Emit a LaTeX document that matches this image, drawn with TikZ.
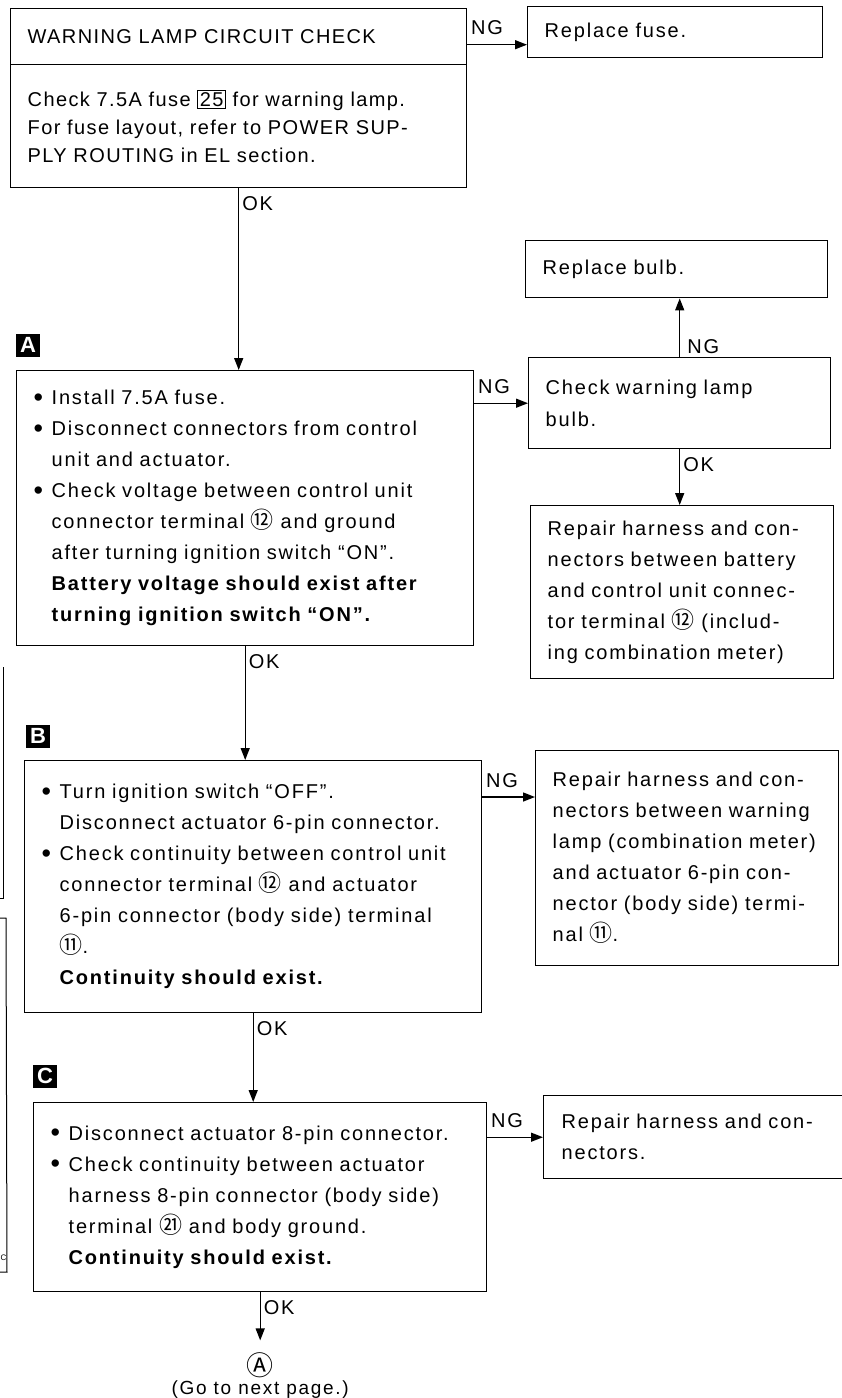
\documentclass[tikz,border=0pt]{standalone}
\usepackage{fontspec}
\setmainfont[LetterSpace=9]{Liberation Sans}
\newfontfamily\topfont[LetterSpace=7]{Liberation Sans}
\newfontfamily\cjk{Noto Sans CJK SC}
\usetikzlibrary{arrows.meta, positioning}

\newcommand{\cnum}[1]{{\cjk\fontsize{23}{23}\selectfont #1}}
\newcommand{\bl}{\makebox[18pt][l]{\raisebox{-1.5pt}{\fontsize{27}{27}\selectfont\textbullet}}}
\newcommand{\ind}{\hspace*{18pt}}
\setlength{\fboxsep}{1.5pt}
\setlength{\fboxrule}{1pt}

\begin{document}
\begin{tikzpicture}[x=1pt, y=-1pt,
  box/.style={draw, line width=1.4pt, anchor=north west, align=left,
              inner xsep=17pt, inner ysep=0pt,
              font=\fontsize{20}{31}\selectfont},
  marker/.style={fill=black, text=white, inner sep=0pt,
              minimum width=24pt, minimum height=23pt,
              font=\fontsize{22}{22}\selectfont\bfseries},
  arrow/.style={-{Triangle[length=12pt, width=9pt]}, line width=1.4pt},
  ann/.style={font=\fontsize{20}{20}\selectfont, inner sep=3pt},
  ok/.style={ann, pos=0, anchor=north west, yshift=-4pt},
  ng/.style={ann, pos=0, anchor=south west, yshift=6pt}
]
\useasboundingbox (0,0) rectangle (842,1398);

% first check
\node[box, minimum width=456pt, minimum height=56pt, text width=422pt,
      font=\fontsize{20}{28}\selectfont\topfont] (head) at (10,8)
  {WARNING LAMP CIRCUIT CHECK};
\node[box, minimum width=456pt, minimum height=123pt, text width=422pt,
      font=\fontsize{20}{28}\selectfont\topfont] (fuse) at (10,64)
  {Check 7.5A fuse \fbox{25} for warning lamp.\\
   For fuse layout, refer to POWER SUP-\\
   PLY ROUTING in EL section.};
\node[box, minimum width=295pt, minimum height=51pt, text width=261pt] (rfuse) at (527,6)
  {Replace fuse.};

% step A
\node[marker] (mA) at (28,345) {A};
\node[box, minimum width=457pt, minimum height=275pt, text width=423pt] (chkA) at (16,370)
  {\bl Install 7.5A fuse.\\
   \bl Disconnect connectors from control\\
   \ind unit and actuator.\\
   \bl Check voltage between control unit\\
   \ind connector terminal \cnum{⑫} and ground\\
   \ind after turning ignition switch ``ON''.\\
   \ind\textbf{Battery voltage should exist after}\\
   \ind\textbf{turning ignition switch ``ON''.}};
\node[box, minimum width=302pt, minimum height=57pt, text width=268pt] (rbulb) at (525,240)
  {Replace bulb.};
\node[box, minimum width=302pt, minimum height=91pt, text width=268pt,
      font=\fontsize{20}{32}\selectfont] (bulb) at (528,357)
  {Check warning lamp\\bulb.};
\node[box, minimum width=303pt, minimum height=173pt, text width=269pt] (rep1) at (530,505)
  {Repair harness and con-\\
   nectors between battery\\
   and control unit connec-\\
   tor terminal \cnum{⑫} (includ-\\
   ing combination meter)};

% step B
\node[marker] (mB) at (38,736) {B};
\node[box, minimum width=457pt, minimum height=252pt, text width=423pt] (chkB) at (24,760)
  {\bl Turn ignition switch ``OFF''.\\
   \ind Disconnect actuator 6-pin connector.\\
   \bl Check continuity between control unit\\
   \ind connector terminal \cnum{⑫} and actuator\\
   \ind 6-pin connector (body side) terminal\\
   \ind\cnum{⑪}.\\
   \ind\textbf{Continuity should exist.}};
\node[box, minimum width=303pt, minimum height=215pt, text width=269pt] (rep2) at (535,750)
  {Repair harness and con-\\
   nectors between warning\\
   lamp (combination meter)\\
   and actuator 6-pin con-\\
   nector (body side) termi-\\
   nal \cnum{⑪}.};

% step C
\node[marker] (mC) at (45,1076) {C};
\node[box, minimum width=453pt, minimum height=189pt, text width=419pt] (chkC) at (33,1102)
  {\bl Disconnect actuator 8-pin connector.\\
   \bl Check continuity between actuator\\
   \ind harness 8-pin connector (body side)\\
   \ind terminal \cnum{㉑} and body ground.\\
   \ind\textbf{Continuity should exist.}};
\node[box, minimum width=299pt, minimum height=83pt, text width=263pt, inner xsep=18pt] (rep3) at (543,1095)
  {Repair harness and con-\\nectors.};

\node[inner sep=0pt, below=60pt of chkC] (goA) {{\cjk\fontsize{27}{27}\selectfont Ⓐ}};
\node[inner sep=0pt, font=\fontsize{19}{19}\selectfont, below=3pt of goA] (nextp) {(Go to next page.)};

% connectors
\coordinate (ngF) at ([yshift=-8pt]head.east);
\coordinate (ngB) at ([yshift=-37pt]chkB.north east);
\draw[arrow] (ngF) -- node[ng]{NG} (ngF -| rfuse.west);
\draw[arrow] (fuse.south) -- node[ok]{OK} (fuse.south |- chkA.north);
\draw[arrow] (bulb.west -| chkA.east) -- node[ng]{NG} (bulb.west);
\draw[arrow] (bulb.north) -- node[ann, pos=0, anchor=south west, xshift=4pt]{NG} (bulb.north |- rbulb.south);
\draw[arrow] (bulb.south) -- node[ok]{OK} (bulb.south |- rep1.north);
\draw[arrow] (chkA.south) -- node[ok]{OK} (chkA.south |- chkB.north);
\draw[arrow] (ngB) -- node[ng]{NG} (ngB -| rep2.west);
\draw[arrow] (chkB.south) -- node[ok]{OK} (chkB.south |- chkC.north);
\draw[arrow] (rep3.west -| chkC.east) -- node[ng]{NG} (rep3.west);
\draw[arrow, shorten >=12pt] (chkC.south) -- node[ok]{OK} (goA.north);

% edge of the neighbouring chart
\draw[line width=1pt] (0,898) -- (3,898) -- (3,667);
\draw[line width=1pt] (0,918) -- (6,918) -- (7,1272) -- (0,1272);
\node[anchor=west, inner sep=0pt, font=\fontsize{8}{8}\selectfont] (cut) at (0.5,1258) {C};
\end{tikzpicture}
\end{document}
